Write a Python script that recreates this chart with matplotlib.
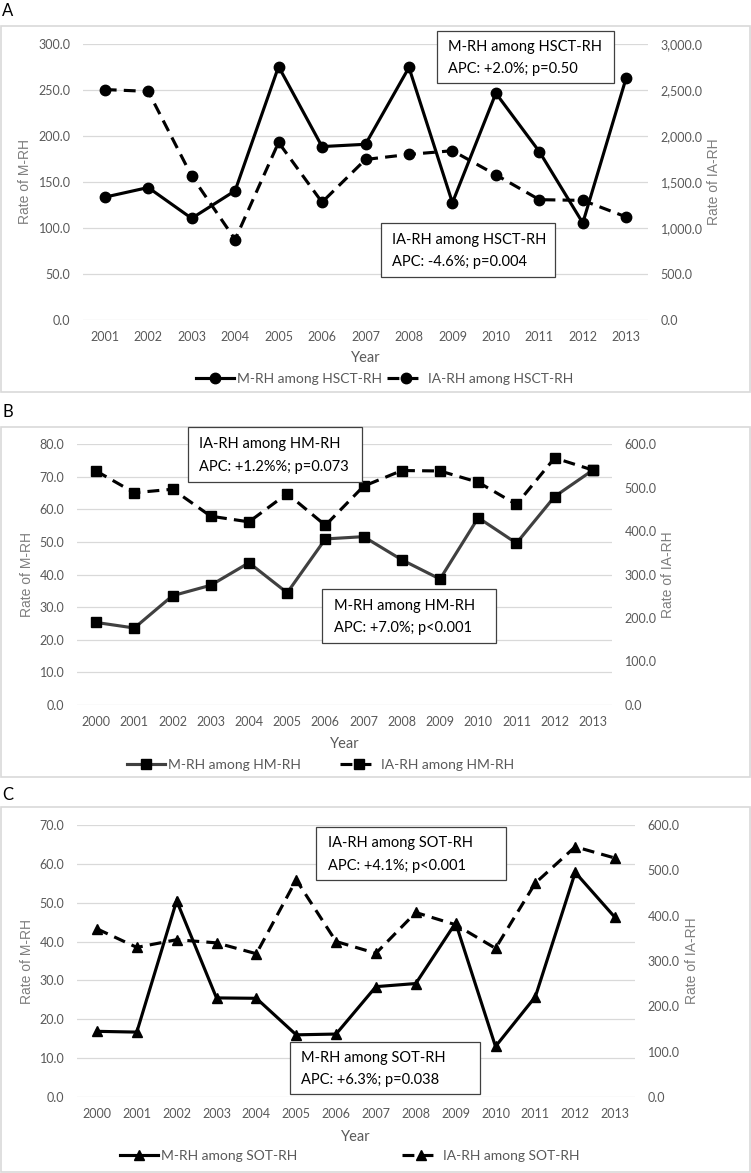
import matplotlib.pyplot as plt
from matplotlib.patches import Rectangle
from matplotlib.lines import Line2D
from matplotlib.ticker import FuncFormatter, MultipleLocator

# figure size in pixels (dpi 100)
W, H = 751, 1173

# Panel A data (HSCT-RH)
years_a = ['2001', '2002', '2003', '2004', '2005', '2006', '2007',
           '2008', '2009', '2010', '2011', '2012', '2013']
m_rh_hsct = [133.5, 144.0, 110.5, 140.5, 275.5, 188.5, 191.0,
             274.5, 127.5, 246.5, 183.0, 105.5, 263.5]
ia_rh_hsct = [2505, 2485, 1565, 875, 1930, 1280, 1745,
              1800, 1840, 1578, 1308, 1300, 1120]

# Panel B data (HM-RH)
years_b = ['2000', '2001', '2002', '2003', '2004', '2005', '2006',
           '2007', '2008', '2009', '2010', '2011', '2012', '2013']
m_rh_hm = [25.3, 23.6, 33.5, 36.7, 43.6, 34.4, 50.9,
           51.6, 44.5, 38.6, 57.4, 49.6, 63.9, 72.0]
ia_rh_hm = [538, 488, 496, 434, 421, 486, 413,
            503, 539, 538, 512, 461, 568, 540]

# Panel C data (SOT-RH)
years_c = years_b
m_rh_sot = [16.9, 16.7, 50.5, 25.5, 25.4, 16.0, 16.2,
            28.4, 29.2, 44.8, 13.0, 25.8, 57.8, 46.2]
ia_rh_sot = [371, 330, 347, 340, 316, 479, 343,
             317, 407, 380, 328, 472, 552, 527]

CAL = ['Lato', 'DejaVu Sans']
TICK_COLOR = '#595959'
GRID_COLOR = '#d9d9d9'
DASH = (0, (3.8, 2.3))

fig = plt.figure(figsize=(W / 100, H / 100), dpi=100)


def fx(x):
    return x / W


def fy(y):
    return 1 - y / H


def draw_panel(letter, letter_y, frame, area, years, m_vals, ia_vals,
               m_max, m_step, ia_max, ia_step, marker, msize, m_color,
               group, ylab_x, ylab2_x, xlab_y, leg_y, leg_x, boxes):
    x0, y0, x1, y1 = area
    ax = fig.add_axes([fx(x0), fy(y1), (x1 - x0) / W, (y1 - y0) / H])
    ax2 = ax.twinx()
    xs = range(len(years))

    ax.plot(xs, m_vals, color=m_color, lw=2.25, marker=marker, ms=msize,
            mfc='black', mec='black', solid_joinstyle='miter')
    ax2.plot(xs, ia_vals, color='black', lw=2.25, ls=DASH,
             marker=marker, ms=msize, mfc='black', mec='black')

    ax.set_xlim(-0.5, len(years) - 0.5)
    ax.set_xticks(list(xs))
    ax.set_xticklabels(years)
    ax.set_ylim(0, m_max)
    ax.yaxis.set_major_locator(MultipleLocator(m_step))
    ax2.set_ylim(0, ia_max)
    ax2.yaxis.set_major_locator(MultipleLocator(ia_step))
    ax.yaxis.set_major_formatter(FuncFormatter(lambda v, p: f'{v:,.1f}'))
    ax2.yaxis.set_major_formatter(FuncFormatter(lambda v, p: f'{v:,.1f}'))

    ax.grid(axis='y', color=GRID_COLOR, lw=0.9)
    ax.set_axisbelow(True)
    for a in (ax, ax2):
        for s in a.spines.values():
            s.set_visible(False)
        a.tick_params(length=0, labelcolor=TICK_COLOR, labelsize=9)
        for lab in a.get_xticklabels() + a.get_yticklabels():
            lab.set_family(CAL)
    ax.tick_params(axis='y', pad=9)
    ax2.tick_params(axis='y', pad=9)
    ax.tick_params(axis='x', pad=8)

    # panel frame and letter
    fx0, fy0, fx1, fy1 = frame
    fig.patches.append(Rectangle((fx(fx0), fy(fy1)), (fx1 - fx0) / W,
                                 (fy1 - fy0) / H, transform=fig.transFigure,
                                 fill=False, edgecolor=GRID_COLOR, lw=1.2,
                                 zorder=-1))
    fig.text(fx(2), fy(letter_y), letter, fontsize=12, family=CAL,
             va='center', ha='left')

    # axis titles
    ymid = fy((y0 + y1) / 2)
    fig.text(fx(ylab_x), ymid, 'Rate of M-RH', rotation=90, ha='center',
             va='center', fontsize=10, color='#7f7f7f',
             family='Liberation Sans')
    fig.text(fx(ylab2_x), ymid, 'Rate of IA-RH', rotation=90, ha='center',
             va='center', fontsize=10, color='#7f7f7f',
             family='Liberation Sans')
    fig.text(fx((x0 + x1) / 2), fy(xlab_y), 'Year', ha='center',
             va='center', fontsize=10.5, color=TICK_COLOR, family=CAL)

    # legend entries
    h1 = Line2D([], [], color=m_color, lw=2.25, marker=marker, ms=msize,
                mfc='black', mec='black')
    h2 = Line2D([], [], color='black', lw=2.25, ls=DASH,
                marker=marker, ms=msize, mfc='black', mec='black')
    for h, lab, lx in ((h1, f'M-RH among {group}', leg_x[0]),
                       (h2, f'IA-RH among {group}', leg_x[1])):
        leg = fig.legend([h], [lab], loc='center left',
                         bbox_to_anchor=(fx(lx), fy(leg_y)), frameon=False,
                         borderpad=0, borderaxespad=0, handlelength=2.75,
                         handletextpad=0.2,
                         prop={'family': CAL, 'size': 10})
        for t in leg.get_texts():
            t.set_color(TICK_COLOR)

    # annotation boxes
    for (bx0, by0, bx1, by1, tx, line1, line2) in boxes:
        fig.patches.append(Rectangle((fx(bx0), fy(by1)), (bx1 - bx0) / W,
                                     (by1 - by0) / H,
                                     transform=fig.transFigure,
                                     facecolor='white', edgecolor='#404040',
                                     lw=0.9, zorder=5))
        ty1 = by0 + (by1 - by0) * 0.31
        ty2 = by0 + (by1 - by0) * 0.73
        for ty, s in ((ty1, line1), (ty2, line2)):
            fig.text(fx(tx), fy(ty), s, ha='left', va='center',
                     fontsize=10.5, family=CAL, zorder=6)


draw_panel('A', 11, (1, 26, 750, 392), (83, 44, 648, 320), years_a,
           m_rh_hsct, ia_rh_hsct, 300, 50, 3000, 500, 'o', 7.5, 'black',
           'HSCT-RH', 25, 714, 358, 379, (196, 387),
           [(437, 31, 614, 83, 448, 'M-RH among HSCT-RH',
             'APC: +2.0%; p=0.50'),
            (381, 223, 555, 277, 392, 'IA-RH among HSCT-RH',
             'APC: -4.6%; p=0.004')])

draw_panel('B', 412, (1, 427, 750, 777), (77, 444, 612, 705), years_b,
           m_rh_hm, ia_rh_hm, 80, 10, 600, 100, 's', 7, '#404040',
           'HM-RH', 27, 668, 744, 765, (127, 340),
           [(188, 427, 362, 482, 199, 'IA-RH among HM-RH',
             'APC: +1.2%%; p=0.073'),
            (322, 589, 496, 643, 334, 'M-RH among HM-RH',
             'APC: +7.0%; p<0.001')])

draw_panel('C', 795, (1, 807, 750, 1172), (77, 825, 635, 1097), years_c,
           m_rh_sot, ia_rh_sot, 70, 10, 600, 100, '^', 7.5, 'black',
           'SOT-RH', 27, 692, 1137, 1156, (120, 402),
           [(316, 827, 506, 880, 328, 'IA-RH among SOT-RH',
             'APC: +4.1%; p<0.001'),
            (290, 1042, 480, 1094, 301, 'M-RH among SOT-RH',
             'APC: +6.3%; p=0.038')])

fig.savefig('out.png', dpi=100, facecolor='white')
